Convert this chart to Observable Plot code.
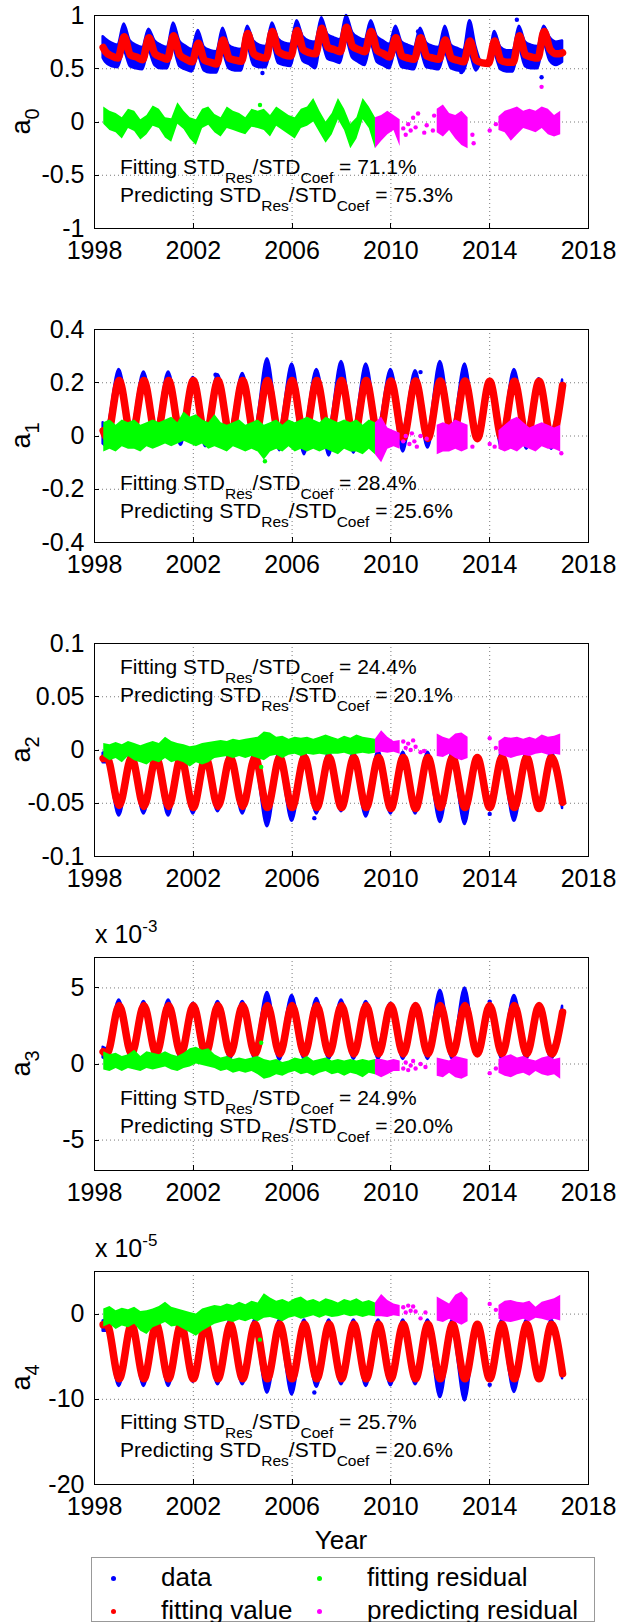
<!DOCTYPE html>
<html><head><meta charset="utf-8">
<script src="https://cdn.jsdelivr.net/npm/d3@7"></script>
<script src="https://cdn.jsdelivr.net/npm/@observablehq/plot@0.6"></script>
<style>
body{margin:0;background:#fff;font-family:"Liberation Sans",Arial,sans-serif;}
#wrap{width:618px;}
#wrap svg{display:block;overflow:visible;}
#legend{position:relative;margin-left:91px;margin-top:1px;width:502px;height:63px;border:1px solid #999;background:#fff;}
#legend .mk{position:absolute;width:5px;height:5px;border-radius:50%;}
#legend .lt{position:absolute;font-size:26px;line-height:30px;white-space:pre;color:#000;}
</style></head><body><div id="wrap"></div><div id="legend"></div>
<script>
// ---------- shared axes ----------
const xTicks = [1998, 2002, 2006, 2010, 2014, 2018];
const seriesNames = ["data", "fitting value", "fitting residual", "predicting residual"];
const seriesColors = ["#0000ff", "#ff0000", "#00ff00", "#ff00ff"];
const coefNames = ["0", "1", "2", "3", "4"];
const fitPct = ["71.1%", "28.4%", "24.4%", "24.9%", "25.7%"];
const predPct = ["75.3%", "25.6%", "20.1%", "20.0%", "20.6%"];
const yTicks0 = [-1, -0.5, 0, 0.5, 1];
const yTicks1 = [-0.4, -0.2, 0, 0.2, 0.4];
const yTicks2 = [-0.1, -0.05, 0, 0.05, 0.1];
const yTicks3 = [-5, 0, 5];
const yTicks4 = [-20, -10, 0];
const expLabels = [null, null, null, "-3", "-5"];

// residual time grid (quarter years) and extremum times
const resYears = d3.range(1998.375, 2017, 0.25);
const extYears = [1998.35, ...d3.range(1998.5, 2016.75, 0.5), 2016.95];
const a0Years = [1998.35, 1998.45, 1998.7, 1998.95,
  ...d3.range(1999, 2017).flatMap(y => [y + 0.2, y + 0.45, y + 0.7, y + 0.95])];

// ---------- a0 ----------
const a0Fit = [0.70,0.66,0.62,0.60, 0.80,0.63,0.61,0.585, 0.79,0.64,0.61,0.59, 0.81,0.63,0.59,0.565,
  0.74,0.58,0.56,0.545, 0.77,0.60,0.58,0.57, 0.83,0.64,0.61,0.60, 0.85,0.66,0.63,0.62,
  0.86,0.68,0.65,0.64, 0.88,0.70,0.68,0.66, 0.89,0.71,0.68,0.66, 0.85,0.67,0.64,0.61,
  0.79,0.62,0.60,0.59, 0.79,0.62,0.60,0.59, 0.77,0.60,0.58,0.565, 0.76,0.58,0.555,0.55,
  0.76,0.58,0.56,0.56, 0.81,0.63,0.61,0.60, 0.85,0.68,0.64,0.65];
const a0Hi = [0.80,0.78,0.74,0.72, 0.92,0.76,0.72,0.70, 0.87,0.76,0.72,0.70, 0.93,0.76,0.71,0.68,
  0.86,0.70,0.67,0.66, 0.88,0.72,0.69,0.68, 0.90,0.76,0.72,0.71, 0.93,0.78,0.74,0.73,
  0.95,0.80,0.76,0.75, 0.98,0.82,0.79,0.77, 1.00,0.84,0.79,0.77, 0.95,0.80,0.76,0.73,
  0.90,0.75,0.72,0.70, 0.88,0.74,0.71,0.70, 0.90,0.72,0.69,0.67, 0.95,0.70,0.555,0.55,
  0.85,0.70,0.67,0.67, 0.90,0.75,0.72,0.71, 0.90,0.79,0.75,0.76];
const a0Lo = [0.60,0.56,0.52,0.51, 0.66,0.52,0.50,0.49, 0.66,0.53,0.50,0.50, 0.68,0.52,0.49,0.47,
  0.61,0.48,0.46,0.46, 0.64,0.50,0.48,0.48, 0.70,0.53,0.51,0.51, 0.72,0.55,0.53,0.52,
  0.73,0.57,0.54,0.50, 0.75,0.59,0.57,0.55, 0.76,0.60,0.56,0.53, 0.72,0.56,0.53,0.50,
  0.66,0.51,0.50,0.49, 0.66,0.51,0.50,0.49, 0.64,0.50,0.48,0.47, 0.63,0.48,0.555,0.55,
  0.63,0.49,0.47,0.47, 0.68,0.52,0.50,0.50, 0.72,0.57,0.53,0.56];
const r0Up = [0.14,0.10,0.08,0.04,0.12,0.10,0.02,0.06,0.15,0.12,0.04,0.03,0.18,0.10,0.04,0.02,0.12,0.14,0.07,0.04,
  0.14,0.10,0.08,0.04,0.12,0.10,0.12,0.06,0.14,0.10,0.06,0.04,0.12,0.14,0.22,0.10,0.00,0.08,0.22,0.12,
  -0.02,0.04,0.22,0.14,0.04, 0.06,0.10,0.06,0.02, null,null,null,null,null, 0.12,0.16,0.08,0.06,0.10,0.04,
  null,null,null,null, 0.05,0.10,0.12,0.14,0.10,0.12,0.10,0.14,0.12,0.06,0.10];
const r0Lo = [-0.02,-0.08,-0.10,-0.16,-0.06,-0.09,-0.17,-0.12,-0.04,-0.06,-0.15,-0.19,-0.02,-0.07,-0.16,-0.22,-0.06,-0.03,-0.10,-0.14,
  -0.06,-0.08,-0.10,-0.12,-0.05,-0.06,-0.08,-0.14,-0.04,-0.08,-0.12,-0.16,-0.06,-0.04,0.00,-0.10,-0.20,-0.12,0.02,-0.08,
  -0.25,-0.16,0.02,-0.06,-0.25, -0.18,-0.12,-0.08,-0.23, null,null,null,null,null, -0.10,-0.14,-0.08,-0.16,-0.22,-0.25,
  null,null,null,null, -0.08,-0.10,-0.18,-0.12,-0.06,-0.08,-0.10,-0.06,-0.12,-0.14,-0.12];
const bo0 = [[2004.8,0.46],[2012.85,0.47],[2011.1,0.85],[2015.1,0.96],[2016.1,0.42]];
const go0 = [[2004.7,0.16]];
const pm0 = [[2010.5,-0.06],[2010.6,-0.12],[2010.7,-0.02],[2010.8,-0.08],[2010.9,0.04],[2011.0,-0.05],[2011.1,0.08],
  [2011.35,-0.10],[2011.45,-0.03],[2011.7,-0.08],[2011.75,0.06],[2013.3,-0.12],[2013.35,-0.20],[2014.0,-0.08],[2014.25,-0.02],[2016.1,0.33]];

// ---------- a1 ----------
const a1Fit = [0.02,-0.005,0.208,-0.005,0.208,-0.005,0.208,-0.005,0.208,-0.005,0.208,-0.006,0.208,-0.006,0.208,-0.006,
  0.208,-0.007,0.208,-0.007,0.208,-0.008,0.208,-0.008,0.207,-0.008,0.207,-0.009,0.207,-0.009,0.207,-0.010,0.206,-0.010,
  0.206,-0.010,0.206,-0.010,0.19];
const a1Hi = [0.05,0.035,0.25,0.03,0.24,0.03,0.24,0.03,0.22,0.03,0.23,0.03,0.235,0.03,0.29,0.03,0.27,0.03,0.25,0.03,
  0.28,0.03,0.27,0.04,0.25,0.03,0.245,0.02,0.28,0.03,0.27,-0.010,0.206,0.02,0.25,0.03,0.215,0.02,0.21];
const a1Lo = [-0.03,-0.04,0.185,-0.04,0.185,-0.035,0.185,-0.035,0.185,-0.04,0.185,-0.04,0.185,-0.045,0.185,-0.055,
  0.185,-0.07,0.185,-0.075,0.185,-0.065,0.185,-0.07,0.185,-0.06,0.185,-0.045,0.185,-0.04,0.185,-0.010,0.206,-0.05,
  0.185,-0.05,0.185,-0.05,0.17];
const r1Up = [0.05,0.06,0.04,0.06,0.05,0.06,0.04,0.05,0.06,0.05,0.06,0.07,0.05,0.09,0.07,0.08,0.06,0.05,0.08,0.05,
  0.04,0.05,0.06,0.04,0.05,0.06,0.04,0.05,0.06,0.04,0.06,0.05,0.06,0.07,0.06,0.05,0.07,0.06,0.05,0.06,
  0.05,0.06,0.04,0.06,0.05, 0.07,0.03,0.02,0.01, null,null,null,null,null, 0.04,0.05,0.04,0.06,0.05,0.04,
  null,null,null,null, 0.02,0.04,0.06,0.07,0.05,0.03,0.04,0.05,0.04,0.03,0.04];
const r1Lo = [-0.06,-0.05,-0.06,-0.04,-0.05,-0.05,-0.06,-0.04,-0.05,-0.04,-0.03,-0.04,-0.03,-0.02,-0.03,-0.04,-0.03,-0.05,-0.04,-0.05,
  -0.06,-0.04,-0.05,-0.06,-0.05,-0.06,-0.09,-0.06,-0.05,-0.06,-0.04,-0.06,-0.05,-0.06,-0.05,-0.06,-0.05,-0.06,-0.07,-0.05,
  -0.06,-0.06,-0.07,-0.05,-0.07, -0.10,-0.05,-0.04,-0.05, null,null,null,null,null, -0.07,-0.06,-0.06,-0.05,-0.06,-0.05,
  null,null,null,null, -0.05,-0.06,-0.05,-0.06,-0.04,-0.05,-0.06,-0.04,-0.05,-0.05,-0.06];
const bo1 = [[2002.9,0.23],[2011.2,0.24]];
const go1 = [[2004.9,-0.095]];
const pm1 = [[2010.5,-0.02],[2010.6,0.0],[2010.75,-0.03],[2010.85,0.01],[2010.95,-0.02],[2011.05,-0.04],[2011.2,0.0],
  [2011.45,-0.01],[2013.3,-0.04],[2014.0,-0.03],[2014.2,-0.04],[2016.9,-0.065]];

// ---------- a2 ----------
const a2Fit = [-0.008,-0.007,-0.052,-0.007,-0.053,-0.007,-0.053,-0.007,-0.054,-0.007,-0.053,-0.007,-0.053,-0.007,-0.054,-0.007,
  -0.054,-0.007,-0.054,-0.007,-0.054,-0.007,-0.054,-0.007,-0.055,-0.007,-0.055,-0.007,-0.054,-0.007,-0.054,-0.007,-0.054,-0.007,
  -0.054,-0.007,-0.055,-0.007,-0.049];
const a2Hi = [-0.003,-0.002,-0.049,-0.002,-0.049,-0.002,-0.049,-0.002,-0.050,-0.002,-0.049,-0.002,-0.049,-0.002,-0.050,-0.002,
  -0.050,-0.002,-0.050,-0.002,-0.050,-0.002,-0.050,-0.001,-0.051,-0.002,-0.051,-0.002,-0.050,-0.002,-0.050,-0.007,-0.054,-0.002,
  -0.050,-0.002,-0.051,-0.002,-0.045];
const a2Lo = [-0.012,-0.012,-0.062,-0.012,-0.060,-0.012,-0.062,-0.012,-0.060,-0.012,-0.058,-0.012,-0.060,-0.012,-0.072,-0.012,
  -0.067,-0.012,-0.060,-0.012,-0.058,-0.012,-0.063,-0.012,-0.060,-0.012,-0.060,-0.012,-0.068,-0.012,-0.070,-0.007,-0.054,-0.012,
  -0.067,-0.012,-0.057,-0.012,-0.055];
const r2Up = [0.006,0.005,0.007,0.005,0.008,0.006,0.004,0.006,0.008,0.006,0.012,0.008,0.006,0.005,0.003,0.004,0.006,0.007,0.008,0.009,
  0.008,0.010,0.009,0.010,0.011,0.012,0.017,0.016,0.012,0.013,0.010,0.012,0.011,0.012,0.010,0.012,0.014,0.012,0.010,0.013,
  0.011,0.014,0.012,0.011,0.010, 0.018,0.012,0.008,0.009, null,null,null,null,null, 0.015,0.012,0.010,0.015,0.016,0.012,
  null,null,null,null, 0.008,0.012,0.011,0.012,0.010,0.012,0.010,0.014,0.012,0.013,0.015];
const r2Lo = [-0.006,-0.010,-0.008,-0.012,-0.006,-0.010,-0.012,-0.014,-0.010,-0.012,-0.008,-0.012,-0.010,-0.012,-0.016,-0.012,-0.014,-0.012,-0.008,-0.007,
  -0.006,-0.008,-0.006,-0.008,-0.006,-0.008,-0.010,-0.006,-0.005,-0.008,-0.005,-0.004,-0.006,-0.004,-0.005,-0.004,-0.005,-0.004,-0.004,-0.003,
  -0.005,-0.004,-0.003,-0.004,-0.003, -0.002,-0.003,-0.002,-0.004, null,null,null,null,null, -0.006,-0.007,-0.004,-0.008,-0.010,-0.008,
  null,null,null,null, -0.004,-0.006,-0.008,-0.006,-0.005,-0.006,-0.004,-0.003,-0.005,-0.004,-0.005];
const bo2 = [[2006.9,-0.064],[2014.0,-0.060]];
const go2 = [[2004.75,-0.016]];
const pm2 = [[2010.5,0.008],[2010.6,0.002],[2010.7,0.006],[2010.8,0.0],[2010.9,0.009],[2011.0,0.003],[2011.2,-0.002],
  [2011.35,-0.001],[2014.0,0.011],[2014.25,0.002]];

// ---------- a3 (x 10^-3) ----------
const a3Fit = [0.8,0.65,3.85,0.65,3.85,0.65,3.85,0.65,3.85,0.65,3.85,0.65,3.85,0.65,3.85,0.65,3.85,0.65,3.85,0.65,
  3.85,0.65,3.85,0.65,3.85,0.65,3.85,0.65,3.85,0.65,3.85,0.65,3.85,0.65,3.85,0.65,3.85,0.65,3.4];
const a3Hi = [1.1,1.0,4.2,1.0,4.1,1.0,4.2,1.0,4.0,1.0,4.1,1.0,4.1,1.0,4.7,1.0,4.5,1.0,4.3,1.0,
  4.2,1.0,4.1,1.3,4.0,1.0,3.95,1.0,4.85,1.0,5.0,0.65,3.85,1.0,4.5,1.0,3.9,1.0,3.8];
const a3Lo = [0.4,0.3,3.5,0.3,3.5,0.3,3.5,0.3,3.5,0.3,3.5,0.3,3.5,0.3,3.5,0.25,3.5,0.3,3.5,0.3,
  3.5,0.3,3.5,0.3,3.5,0.3,3.5,0.3,3.5,0.3,3.5,0.65,3.85,0.3,3.5,0.3,3.5,0.3,3.2];
const r3Up = [0.8,0.6,0.7,0.5,0.6,0.9,0.5,0.8,0.7,0.6,0.8,0.6,0.5,0.7,1.0,1.1,0.9,1.0,0.6,0.4,
  0.5,0.3,0.4,0.3,0.4,0.5,0.3,0.2,0.3,0.1,0.2,0.4,0.3,0.5,0.2,0.3,0.4,0.2,0.3,0.2,
  0.3,0.2,0.3,0.2,0.3, 0.3,0.2,0.3,0.2, null,null,null,null,null, 0.4,0.3,0.2,0.5,0.4,0.3,
  null,null,null,null, 0.3,0.5,0.6,0.4,0.5,0.3,0.2,0.4,0.5,0.3,0.4];
const r3Lo = [-0.4,-0.5,-0.3,-0.5,-0.3,-0.4,-0.5,-0.3,-0.4,-0.3,-0.2,-0.4,-0.5,-0.3,-0.2,0.0,-0.1,-0.2,-0.3,-0.5,
  -0.4,-0.6,-0.5,-0.6,-0.5,-0.7,-1.0,-0.9,-0.7,-0.8,-0.6,-0.5,-0.7,-0.6,-0.8,-0.6,-0.5,-0.7,-0.6,-0.8,
  -0.6,-0.7,-0.9,-0.6,-0.7, -0.9,-0.7,-0.5,-0.5, null,null,null,null,null, -0.8,-0.9,-0.6,-0.9,-1.0,-0.8,
  null,null,null,null, -0.6,-0.8,-0.9,-0.7,-0.6,-0.8,-0.5,-0.7,-0.8,-0.7,-1.0];
const bo3 = [[2014.0,4.1]];
const go3 = [[2004.75,1.4]];
const pm3 = [[2010.5,-0.3],[2010.6,0.1],[2010.7,-0.4],[2010.8,-0.1],[2010.9,0.2],[2011.0,-0.3],[2011.2,0.0],
  [2011.4,-0.2],[2014.0,-0.6],[2014.25,-0.3]];

// ---------- a4 (x 10^-5) ----------
const a4Fit = [-1.25,-1.2,-7.6,-1.2,-7.6,-1.2,-7.6,-1.2,-7.6,-1.2,-7.6,-1.2,-7.6,-1.2,-7.6,-1.2,-7.6,-1.2,-7.6,-1.2,
  -7.6,-1.2,-7.6,-1.2,-7.6,-1.2,-7.6,-1.2,-7.6,-1.2,-7.6,-1.2,-7.6,-1.2,-7.6,-1.2,-7.6,-1.2,-7.0];
const a4Hi = [-0.8,-0.7,-7.0,-0.7,-7.0,-0.7,-7.0,-0.7,-7.0,-0.7,-7.0,-0.7,-7.0,-0.7,-7.0,-0.7,-7.0,-0.7,-7.0,-0.7,
  -7.0,-0.7,-7.0,-0.7,-7.0,-0.7,-7.0,-0.7,-7.0,-0.7,-7.0,-1.2,-7.6,-0.7,-7.0,-0.7,-7.0,-0.7,-6.6];
const a4Lo = [-2.0,-2.0,-8.5,-2.0,-8.5,-2.0,-8.5,-2.0,-8.0,-2.0,-8.3,-2.0,-8.3,-2.0,-9.3,-2.0,-9.5,-2.0,-8.6,-2.0,
  -8.3,-2.0,-8.5,-2.0,-8.4,-2.0,-8.3,-2.0,-9.8,-2.0,-10.2,-1.2,-7.6,-2.0,-9.2,-2.0,-7.9,-2.0,-7.6];
const r4Up = [0.6,0.9,0.4,0.7,0.5,0.8,0.3,0.4,0.6,0.9,1.4,0.8,0.6,0.4,0.2,0.0,0.6,0.8,1.0,0.9,
  1.2,1.0,1.4,1.1,1.5,1.3,2.4,1.9,1.5,1.7,1.4,1.8,2.0,1.5,1.7,1.4,1.8,1.6,1.3,1.7,
  1.5,1.8,1.4,1.6,1.3, 2.3,1.6,1.2,1.0, null,null,null,null,null, 2.0,1.6,1.2,2.2,2.6,1.8,
  null,null,null,null, 1.0,1.5,1.6,1.4,1.3,1.5,0.8,1.4,1.6,1.8,2.2];
const r4Lo = [-1.5,-1.2,-1.8,-1.4,-1.6,-1.2,-2.0,-2.4,-1.6,-1.3,-1.0,-1.5,-1.4,-1.8,-2.2,-2.6,-2.0,-1.6,-1.2,-1.0,
  -0.8,-1.0,-0.7,-0.9,-0.6,-0.9,-0.5,-0.4,-0.6,-0.9,-0.5,-0.3,-0.6,-0.4,-0.2,-0.5,-0.2,-0.4,-0.3,-0.1,
  -0.3,-0.2,-0.4,-0.2,-0.3, -0.3,-0.4,-0.2,-0.3, null,null,null,null,null, -0.8,-1.0,-0.6,-1.0,-1.3,-0.9,
  null,null,null,null, -0.6,-0.9,-1.0,-0.8,-0.6,-0.9,-0.5,-0.6,-0.8,-0.6,-0.8];
const bo4 = [[2006.9,-9.2],[2014.0,-8.3]];
const go4 = [[2004.7,-3.0]];
const pm4 = [[2010.5,0.8],[2010.6,0.2],[2010.7,1.0],[2010.8,0.4],[2010.9,0.9],[2011.0,0.3],[2011.2,-0.5],
  [2011.4,0.2],[2014.0,1.2],[2014.25,0.5]];

// ---------- build ----------
const [BLUE, RED, GREEN, MAGENTA] = seriesColors;
const splitIndex = 44; // 2009.375: fitting -> predicting
const panels = [
  {years: a0Years, fit: a0Fit, hi: a0Hi, lo: a0Lo, rUp: r0Up, rLo: r0Lo, bo: bo0, go: go0, pm: pm0,
   domain: [-1, 1], ticks: yTicks0, ann: 159, mt: 15, mb: 56},
  {years: extYears, fit: a1Fit, hi: a1Hi, lo: a1Lo, rUp: r1Up, rLo: r1Lo, bo: bo1, go: go1, pm: pm1,
   domain: [-0.4, 0.4], ticks: yTicks1, ann: 161, mt: 45, mb: 56},
  {years: extYears, fit: a2Fit, hi: a2Hi, lo: a2Lo, rUp: r2Up, rLo: r2Lo, bo: bo2, go: go2, pm: pm2,
   domain: [-0.1, 0.1], ticks: yTicks2, ann: 31, mt: 45, mb: 56},
  {years: extYears, fit: a3Fit, hi: a3Hi, lo: a3Lo, rUp: r3Up, rLo: r3Lo, bo: bo3, go: go3, pm: pm3,
   domain: [-7, 7], ticks: yTicks3, ann: 148, mt: 45, mb: 56},
  {years: extYears, fit: a4Fit, hi: a4Hi, lo: a4Lo, rUp: r4Up, rLo: r4Lo, bo: bo4, go: go4, pm: pm4,
   domain: [-20, 5], ticks: yTicks4, ann: 158, mt: 45, mb: 72}
];

const FONT = '"Liberation Sans", Arial, Helvetica, sans-serif';
const PH = 213, ML = 94, MR = 30, W = 618;
const wrap = document.getElementById("wrap");

panels.forEach((p, k) => {
  const idx = d3.range(p.years.length);
  const gIdx = d3.range(0, splitIndex + 1);
  const mIdx = d3.range(splitIndex, resYears.length);
  const innerX = xTicks.slice(1, -1);
  const innerY = p.ticks.filter(v => v > p.domain[0] && v < p.domain[1]);
  const chart = Plot.plot({
    width: W, height: p.mt + PH + p.mb,
    marginLeft: ML, marginRight: MR, marginTop: p.mt, marginBottom: p.mb,
    style: {fontFamily: FONT, fontSize: "25px", background: "#fff", color: "#000"},
    x: {domain: [1998, 2018]},
    y: {domain: p.domain},
    marks: [
      Plot.gridX(innerX, {stroke: "#7a7a7a", strokeOpacity: 1, strokeDasharray: "1,3"}),
      Plot.gridY(innerY, {stroke: "#7a7a7a", strokeOpacity: 1, strokeDasharray: "1,3"}),
      Plot.areaY(idx, {x: i => p.years[i], y1: i => p.lo[i], y2: i => p.hi[i], fill: BLUE,
        stroke: BLUE, strokeWidth: 2.5, strokeLinejoin: "round", curve: "monotone-x"}),
      Plot.dot(p.bo, {x: d => d[0], y: d => d[1], r: 2.2, fill: BLUE}),
      Plot.line(idx, {x: i => p.years[i], y: i => p.fit[i], stroke: RED, strokeWidth: 7.5, curve: "monotone-x", strokeLinecap: "round"}),
      Plot.areaY(gIdx, {x: i => resYears[i], y1: i => p.rLo[i], y2: i => p.rUp[i], fill: GREEN}),
      Plot.dot(p.go, {x: d => d[0], y: d => d[1], r: 2.2, fill: GREEN}),
      Plot.areaY(mIdx, {x: i => resYears[i], y1: i => p.rLo[i], y2: i => p.rUp[i], fill: MAGENTA}),
      Plot.dot(p.pm, {x: d => d[0], y: d => d[1], r: 2.2, fill: MAGENTA}),
      Plot.frame({stroke: "#000", strokeWidth: 1}),
      Plot.axisX(xTicks, {tickSize: 0, tickPadding: 13, tickFormat: d => String(d), label: null}),
      Plot.axisY(p.ticks, {tickSize: 0, tickPadding: 10, tickFormat: d => String(d), label: null})
    ]
  });
  wrap.appendChild(chart);

  const svg = d3.select(chart);
  const xs = chart.scale("x"), ys = chart.scale("y");
  const top = p.mt, bottom = p.mt + PH;
  const g = svg.append("g").attr("stroke", "#000").attr("stroke-width", 1);
  innerX.forEach(t => {
    const x = Math.round(xs.apply(t)) + 0.5;
    g.append("line").attr("x1", x).attr("x2", x).attr("y1", bottom).attr("y2", bottom - 5);
  });
  innerY.forEach(v => {
    const y = Math.round(ys.apply(v)) + 0.5;
    g.append("line").attr("x1", ML).attr("x2", ML + 5).attr("y1", y).attr("y2", y);
  });

  // y label a_k
  const lab = svg.append("text").attr("transform", `translate(30,${(top + bottom) / 2}) rotate(-90)`)
    .attr("text-anchor", "middle").attr("font-family", FONT).attr("font-size", 27).attr("fill", "#000");
  lab.append("tspan").text("a");
  lab.append("tspan").attr("dy", 9).attr("font-size", 20).text(coefNames[k]);

  // annotation lines
  const annLine = (y, word, val) => {
    const t = svg.append("text").attr("x", 120).attr("y", y).attr("text-anchor", "start")
      .attr("font-family", FONT).attr("font-size", 21).attr("fill", "#000").style("white-space", "pre");
    t.append("tspan").text(word + " STD");
    t.append("tspan").attr("dy", 9).attr("font-size", 15.5).text("Res");
    t.append("tspan").attr("dy", -9).text("/STD");
    t.append("tspan").attr("dy", 9).attr("font-size", 15.5).text("Coef");
    t.append("tspan").attr("dy", -9).text(" = " + val);
  };
  annLine(top + p.ann, "Fitting", fitPct[k]);
  annLine(top + p.ann + 28, "Predicting", predPct[k]);

  // exponent label
  if (expLabels[k]) {
    const e = svg.append("text").attr("x", 95).attr("y", top - 14).attr("text-anchor", "start")
      .attr("font-family", FONT).attr("font-size", 25).attr("fill", "#000").style("white-space", "pre");
    e.append("tspan").text("x 10");
    e.append("tspan").attr("dy", -11).attr("font-size", 17).text(expLabels[k]);
  }
  if (k === panels.length - 1) {
    svg.append("text").attr("x", (ML + W - MR) / 2).attr("y", bottom + 65).attr("text-anchor", "middle")
      .attr("font-family", FONT).attr("font-size", 26).attr("fill", "#000").text("Year");
  }
});

// legend
const legend = d3.select("#legend");
const legPos = [[0, 0], [0, 1], [1, 0], [1, 1]];
seriesNames.forEach((name, i) => {
  const [c, r] = legPos[i];
  const cy = 20 + r * 33;
  const mx = c === 0 ? 19 : 225;
  const tx = c === 0 ? 69 : 275;
  legend.append("span").attr("class", "mk")
    .style("left", mx + "px").style("top", (cy - 2.5) + "px").style("background", seriesColors[i]);
  legend.append("span").attr("class", "lt")
    .style("left", tx + "px").style("top", (cy - 16) + "px").text(name);
});
</script></body></html>
